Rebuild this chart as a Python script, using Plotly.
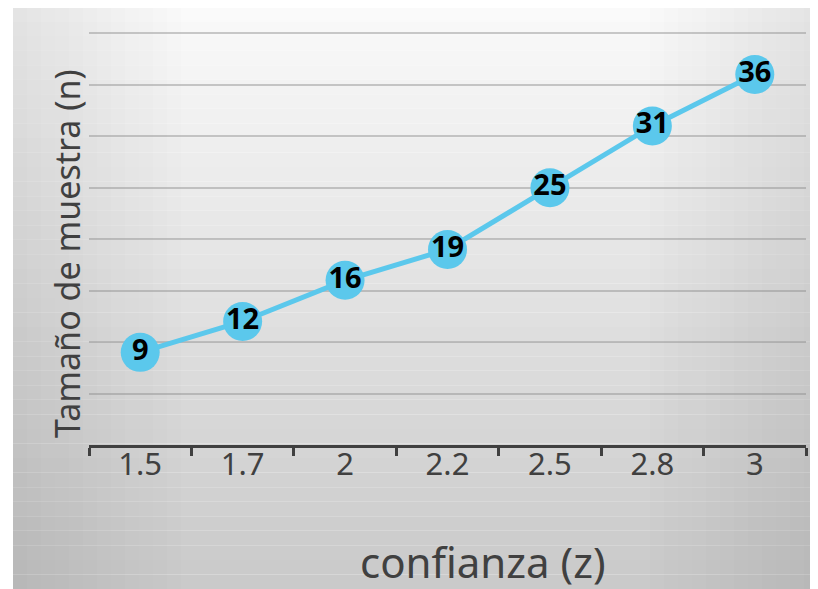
import plotly.graph_objects as go

confianza = ["1.5", "1.7", "2", "2.2", "2.5", "2.8", "3"]
tamano = [9, 12, 16, 19, 25, 31, 36]

# la página deja 8px de margen, así que la figura es 810x581
W, H = 810, 581
L, R, T, B = 81, 12, 15, 144
pw, ph = W - L - R, H - T - B


def px(x):
    return (x - L) / pw


def py(y):
    return (H - B - y) / ph


# fondo gris degradado (bandas)
shapes = []
n = 40
top, bot = (250, 250, 250), (202, 202, 202)
y_top, y_bot = -1, H
for i in range(n):
    f = i / (n - 1)
    c = tuple(int(top[k] + (bot[k] - top[k]) * f) for k in range(3))
    y0 = y_top + (y_bot - y_top) * i / n
    y1 = y_top + (y_bot - y_top) * (i + 1) / n
    shapes.append(dict(type="rect", xref="paper", yref="paper",
                       x0=px(5), x1=px(W + 10), y0=py(y1), y1=py(y0),
                       line=dict(width=0), fillcolor="rgb(%d,%d,%d)" % c, layer="below"))
# bordes laterales un poco más oscuros
m = 12
for i in range(m):
    a = 0.012 * (m - i)
    w = 14
    for x0 in (5 + i * w, W - (i + 1) * w):
        shapes.append(dict(type="rect", xref="paper", yref="paper",
                           x0=px(x0), x1=px(x0 + w), y0=py(H), y1=py(-1),
                           line=dict(width=0), fillcolor="rgba(0,0,0,%.3f)" % (a * 0.6), layer="below"))

fig = go.Figure()
fig.add_trace(go.Scatter(
    x=confianza, y=tamano, mode="lines+markers+text",
    text=[str(v) for v in tamano], textposition="middle center",
    textfont=dict(family="Noto Sans", size=29, color="black", weight="bold"),
    line=dict(color="#5bc8ec", width=5),
    marker=dict(size=39, color="#5bc8ec"),
    cliponaxis=False, showlegend=False,
))
fig.update_layout(
    width=W, height=H,
    margin=dict(l=L, r=R, t=T, b=B, autoexpand=False),
    paper_bgcolor="white", plot_bgcolor="rgba(0,0,0,0)",
    shapes=shapes,
    xaxis=dict(
        type="category", range=[-0.5, 6.5], tickson="boundaries", ticks="outside",
        ticklen=8, tickwidth=3,
        tickcolor="#404040", showline=True, linecolor="#404040", linewidth=3,
        ticklabelstandoff=-10, automargin=False,
        showgrid=False, tickfont=dict(family="Noto Sans", size=31, color="#404040"),
    ),
    yaxis=dict(
        range=[0, 41], dtick=5, showticklabels=False, showgrid=True, automargin=False,
        gridcolor="rgba(140,140,140,0.45)", gridwidth=1.5, zeroline=False,
    ),
    annotations=[
        dict(text="Tamaño de muestra (n)", xref="paper", yref="paper", x=px(59), y=py(246),
             textangle=-90, showarrow=False, xanchor="center", yanchor="middle",
             font=dict(family="Noto Sans", size=34, color="#404040")),
        dict(text="confianza (z)", xref="paper", yref="paper", x=px(475), y=py(553),
             showarrow=False, xanchor="center", yanchor="middle",
             font=dict(family="Noto Sans", size=42, color="#404040")),
    ],
)

fig.write_html("out.html")
